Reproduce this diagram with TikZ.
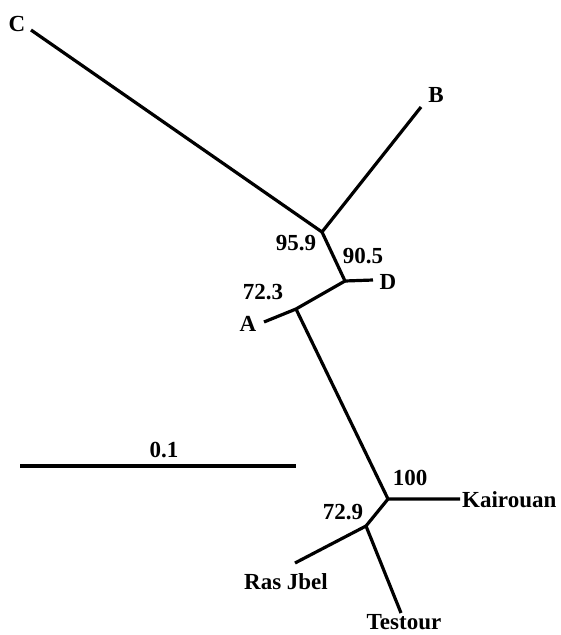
\documentclass[tikz,border=0pt]{standalone}
\usepackage{fontspec}
\setmainfont{Liberation Serif}
\begin{document}
\begin{tikzpicture}[x=1pt,y=-1pt,
  br/.style={line width=3.2pt},
  lab/.style={font=\fontsize{23}{25}\selectfont\bfseries, inner sep=0pt}]
\useasboundingbox (0,0) rectangle (560,635);
% internal nodes
\coordinate (n1) at (322,232);
\coordinate (n2) at (345,281);
\coordinate (n3) at (296,309);
\coordinate (n4) at (388,499);
\coordinate (n5) at (366,526);
% tips
\coordinate (tC) at (31,30);
\coordinate (tB) at (421,107);
\coordinate (tD) at (373,280);
\coordinate (tA) at (264,322);
\coordinate (tK) at (460,499);
\coordinate (tR) at (295,563);
\coordinate (tT) at (401,613);
\coordinate (s1) at (20,466);
\coordinate (s2) at (296,466);
% branches
\draw[br] (tC) -- (n1) -- (tB);
\draw[br] (n1) -- (n2) -- (tD);
\draw[br] (n2) -- (n3) -- (tA);
\draw[br] (n3) -- (n4) -- (tK);
\draw[br] (n4) -- (n5) -- (tR);
\draw[br] (n5) -- (tT);
\draw[br] (s1) -- (s2);
% labels
\node[lab] (lC) at (17,24) {C};
\node[lab] (lB) at (436,95) {B};
\node[lab] (lD) at (388,282) {D};
\node[lab] (lA) at (248,324) {A};
\node[lab,anchor=west] (lK) at (462,500) {Kairouan};
\node[lab] (lR) at (286,582) {Ras Jbel};
\node[lab,anchor=base] (lT) at (404,629) {Testour};
\node[lab] (b959) at (296,243) {95.9};
\node[lab] (b905) at (363,256) {90.5};
\node[lab] (b723) at (263,292) {72.3};
\node[lab] (b100) at (410,478) {100};
\node[lab] (b729) at (343,512) {72.9};
\node[lab] (scl) at (164,450) {0.1};
\end{tikzpicture}
\end{document}
